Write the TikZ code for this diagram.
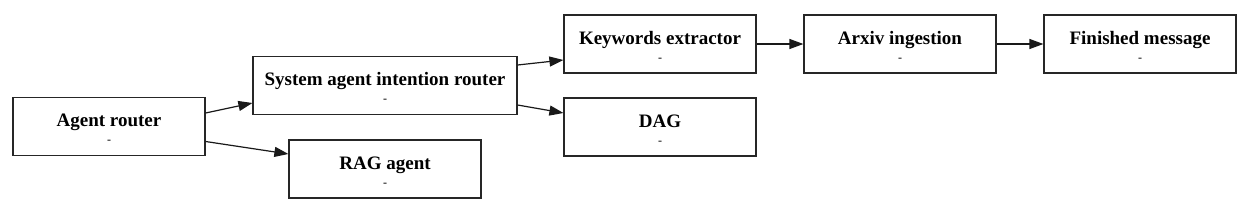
\documentclass[tikz,border=0pt]{standalone}
\usepackage{fontspec}
\setmainfont{Liberation Serif}
\usetikzlibrary{arrows.meta}
\begin{document}
\begin{tikzpicture}[x=1pt,y=-1pt,
  box/.style={draw=black!85, line width=1.2pt, minimum width=192pt, minimum height=58pt, inner sep=0pt, align=center, fill=white},
  arr/.style={-{Triangle[length=14pt,width=10pt]}, line width=1.2pt, black!90}]
\fill[white] (0,0) rectangle (1250,209);
\useasboundingbox (0,0) rectangle (1250,209);
\newcommand{\lbl}[1]{{\fontsize{19}{19}\selectfont\bfseries\rule{0pt}{17pt}#1}\\[5pt]{\fontsize{12}{12}\selectfont -}}
\node[box] (ar) at (109,126.5) {\lbl{Agent router}};
\node[box, minimum width=264pt] (sys) at (385,85.5) {\lbl{System agent intention router}};
\node[box] (rag) at (385,169) {\lbl{RAG agent}};
\node[box] (kw) at (660,44) {\lbl{Keywords extractor}};
\node[box] (dag) at (660,127) {\lbl{DAG}};
\node[box] (ax) at (900,44) {\lbl{Arxiv ingestion}};
\node[box] (fm) at (1140,44) {\lbl{Finished message}};
\draw[arr] ([yshift=13.5pt]ar.east) -- ([yshift=-17.5pt]sys.west);
\draw[arr] ([yshift=-15pt]ar.east) -- ([yshift=15pt]rag.west);
\draw[arr] ([yshift=20.5pt]sys.east) -- ([yshift=-16pt]kw.west);
\draw[arr] ([yshift=-19.5pt]sys.east) -- ([yshift=14pt]dag.west);
\draw[arr] (kw) -- (ax);
\draw[arr] (ax) -- (fm);
\end{tikzpicture}
\end{document}
